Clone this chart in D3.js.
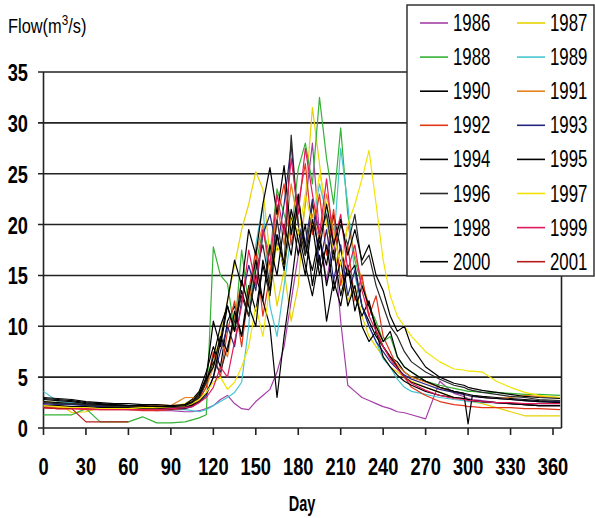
<!DOCTYPE html>
<html>
<head>
<meta charset="utf-8">
<script src="https://cdn.jsdelivr.net/npm/d3@7"></script>
<style>
  body{margin:0;background:#fff}
  text{font-family:"Liberation Sans",Arial,sans-serif}
</style>
</head>
<body>
<div id="chart"></div>
<script>
// day of year for every reading (shared by all years)
const days=[0,10,20,30,40,50,60,70,80,90,100,105,110,115,120,125,130,135,140,145,150,155,160,165,170,175,180,185,190,195,200,205,210,215,220,225,230,235,240,245,250,255,260,270,280,290,297,300,303,310,320,330,340,350,365]

const years=['1986','1987','1988','1989','1990','1991','1992','1993','1994','1995','1996','1997','1998','1999','2000','2001']
const colors=['#a43fa8','#e6d200','#33b233','#46c6cf','#000','#e8821e','#e2361a','#26267e','#000','#000','#2a2a2a','#f2e400','#000','#e01a5c','#000','#b81a1a']

const flow1986=[2.3,2.2,2.0,2.0,1.9,1.9,1.8,1.8,1.7,1.7,1.6,1.6,1.7,1.9,2.2,2.8,3.2,2.4,1.9,1.8,2.6,3.2,3.8,5.5,8.0,12.5,17.0,22.0,28.0,19.0,14.5,18.5,10.5,4.2,3.6,3.0,2.7,2.4,2.1,1.9,1.6,1.5,1.3,0.9,4.6,3.4,3.1,2.9,2.8,2.7,2.5,2.4,2.3,2.2,2.2]
const flow1987=[2.6,2.5,1.5,1.6,2.0,2.2,2.1,2.3,2.0,2.1,2.4,2.8,3.5,4.2,6.5,9.0,12.5,16.0,19.5,22.0,25.2,23.5,17.0,12.0,15.5,10.5,14.0,22.5,31.5,26.0,20.0,17.5,15.0,12.5,14.0,11.0,9.0,8.0,7.0,6.0,5.5,5.0,4.6,4.0,3.5,3.0,2.9,2.8,2.6,2.4,2.0,1.6,1.2,1.2,1.2]
const flow1988=[1.3,1.3,1.3,1.9,0.6,0.6,0.6,1.1,0.5,0.5,0.6,0.8,1.0,1.3,17.8,15.0,14.2,9.5,17.5,12.0,16.0,19.5,17.0,23.5,21.0,19.0,25.5,28.0,24.0,32.5,26.5,22.0,29.5,21.0,16.5,14.0,12.0,10.5,8.5,9.0,7.0,6.0,5.5,4.6,4.2,3.9,3.7,3.6,3.6,3.5,3.5,3.4,3.3,3.3,3.2]
const flow1989=[3.6,2.6,2.5,2.4,2.3,2.2,2.2,2.0,1.9,1.8,1.8,1.7,1.6,1.8,2.2,2.6,3.0,3.5,4.5,10.0,18.0,22.0,12.0,9.0,14.0,19.0,22.5,17.0,20.0,24.0,21.0,18.0,27.5,22.0,15.0,12.0,10.0,8.5,6.8,6.0,4.8,4.0,3.6,3.3,3.0,2.8,2.7,2.6,2.6,2.5,2.5,2.4,2.4,2.4,2.4]
const flow1990=[2.8,2.7,2.6,2.4,2.3,2.3,2.2,2.1,2.2,2.0,2.3,2.8,3.6,5.5,8.0,6.0,10.5,12.0,9.0,14.0,11.5,16.0,13.0,19.0,15.5,21.0,17.0,20.0,14.0,18.5,16.0,21.0,17.5,15.0,16.0,12.0,10.5,9.0,8.0,7.0,6.5,5.5,5.0,4.6,4.0,3.6,3.4,3.3,3.2,3.1,3.0,2.9,2.8,2.7,2.6]
const flow1991=[2.1,2.0,2.0,1.9,1.9,2.0,2.1,2.2,2.3,2.2,3.0,3.0,2.8,4.0,6.0,8.5,7.0,11.0,14.5,12.0,17.0,20.0,15.0,22.0,18.0,24.0,20.0,17.0,21.0,18.5,23.0,19.5,16.0,20.0,17.0,14.5,12.0,10.0,8.0,7.0,6.2,5.5,5.0,4.5,4.0,3.5,3.3,3.2,3.1,3.0,2.9,3.0,3.2,3.1,3.0]
const flow1992=[2.0,1.9,1.9,1.8,1.8,1.8,1.8,1.7,1.7,1.8,1.9,2.2,2.8,4.0,7.5,5.0,9.5,12.5,8.0,13.5,17.5,11.0,15.0,20.5,24.0,18.0,22.0,26.0,19.0,23.0,17.0,21.5,14.0,18.0,12.5,15.0,11.0,13.0,9.0,7.5,6.0,5.0,4.0,3.2,2.6,2.3,2.2,2.1,2.1,2.0,2.0,2.0,1.9,1.9,1.8]
const flow1993=[2.4,2.3,2.3,2.2,2.1,2.1,2.0,2.0,1.9,1.9,1.9,2.1,2.5,3.2,5.0,7.5,10.0,8.0,12.5,16.0,13.5,19.0,21.0,17.5,22.0,27.8,20.0,18.0,22.5,16.0,19.5,14.5,18.0,13.0,15.5,12.0,10.0,8.5,7.5,6.5,5.8,5.2,4.8,4.3,3.8,3.5,3.3,3.2,3.1,3.0,2.9,2.8,2.7,2.6,2.6]
const flow1994=[2.6,2.5,2.4,2.3,2.2,2.2,2.1,2.0,2.0,1.9,2.0,2.3,3.0,4.5,7.0,10.0,12.0,9.5,13.5,11.0,15.0,12.5,10.0,3.0,9.0,14.0,19.5,16.0,13.0,17.0,10.5,14.5,12.0,16.0,13.0,11.0,12.5,9.5,8.0,7.0,6.0,5.0,4.5,4.0,3.5,3.0,2.9,2.8,2.7,2.6,2.5,2.4,2.3,2.2,2.2]
const flow1995=[2.2,2.2,2.1,2.1,2.0,2.0,2.0,1.9,1.9,1.9,2.0,2.2,2.6,3.4,5.0,8.5,12.5,16.5,14.0,19.5,17.0,22.0,25.6,21.0,25.8,19.0,23.0,17.0,20.0,15.0,18.0,13.5,16.5,12.0,14.0,10.0,8.5,9.5,7.0,6.0,5.2,4.6,4.2,3.6,3.2,3.0,2.9,2.8,2.7,2.6,2.5,2.4,2.3,2.2,2.2]
const flow1996=[2.5,2.4,2.4,2.3,2.2,2.1,2.1,2.0,2.0,2.0,2.1,2.4,3.0,4.5,6.5,5.5,8.0,10.5,13.0,11.0,15.5,18.0,14.0,20.5,16.0,28.8,20.0,17.0,22.0,19.0,21.0,16.5,20.0,18.0,21.0,16.0,17.0,14.0,12.0,10.0,9.0,7.5,6.5,5.5,4.8,4.2,4.0,3.8,3.7,3.5,3.3,3.1,3.0,2.8,2.7]
const flow1997=[2.2,2.1,2.0,2.0,1.9,1.9,1.9,2.0,2.0,2.1,2.2,2.4,2.8,3.5,4.5,5.0,3.8,4.5,6.0,8.0,12.0,9.0,14.0,18.0,16.0,21.0,19.0,23.0,20.0,25.0,22.0,19.0,16.0,20.0,22.0,24.5,27.3,22.0,16.5,13.0,11.0,10.0,9.0,7.5,6.5,5.8,5.7,5.6,5.6,5.5,4.6,4.0,3.5,3.2,3.0]
const flow1998=[2.9,2.8,2.7,2.5,2.4,2.3,2.2,2.2,2.1,2.1,2.2,2.5,3.2,4.8,6.0,9.0,7.5,11.5,9.0,13.0,16.5,12.5,18.0,15.0,20.0,17.0,22.5,18.0,15.5,19.0,14.0,17.5,13.0,16.0,11.5,14.0,12.0,10.0,8.5,9.5,7.0,6.0,5.5,4.6,4.0,3.6,3.4,0.4,3.2,3.0,2.9,2.8,2.7,2.6,2.5]
const flow1999=[2.0,1.9,1.9,1.9,1.8,1.8,1.8,1.8,1.8,1.9,2.0,2.1,2.5,3.0,4.0,6.0,5.0,8.5,12.0,17.5,14.0,19.5,16.0,23.0,19.0,26.5,21.0,27.5,23.0,19.0,24.5,18.0,21.0,15.5,18.0,13.5,11.0,9.5,8.0,6.8,5.8,5.0,4.4,3.7,3.2,2.9,2.8,2.7,2.7,2.6,2.5,2.5,2.4,2.4,2.4]
const flow2000=[3.0,2.9,2.8,2.6,2.5,2.4,2.4,2.3,2.3,2.2,2.3,2.6,3.4,5.0,10.5,8.0,12.0,9.5,14.5,12.0,10.0,16.5,13.5,19.0,16.0,21.5,18.5,15.0,20.5,17.5,22.0,18.0,20.5,17.0,19.5,16.5,18.0,15.0,13.5,11.0,9.5,10.0,8.0,6.0,5.0,4.4,4.2,4.0,3.9,3.7,3.5,3.3,3.1,3.0,2.9]
const flow2001=[2.0,1.9,1.9,0.6,0.6,0.6,0.6]

const series=[flow1986,flow1987,flow1988,flow1989,flow1990,flow1991,flow1992,flow1993,flow1994,flow1995,flow1996,flow1997,flow1998,flow1999,flow2000,flow2001]
const xTicks=[0,30,60,90,120,150,180,210,240,270,300,330,360]
const yTicks=[0,5,10,15,20,25,30,35]

const width=595
const height=518

const x=d3.scaleLinear().domain([0,366]).range([43.5,561.5])
const y=d3.scaleLinear().domain([0,35]).range([428,72])

const svg=d3.select('#chart')
    .append('svg')
    .attr('width',width)
    .attr('height',height)

// gridlines + y labels
svg.append('g')
    .selectAll('line')
    .data(yTicks)
    .join('line')
    .attr('x1',38)
    .attr('x2',x(366))
    .attr('y1',d=>y(d))
    .attr('y2',d=>y(d))
    .attr('stroke','#222')
    .attr('stroke-width',1.6)

svg.append('g')
    .selectAll('text')
    .data(yTicks)
    .join('text')
    .attr('transform',d=>`translate(28,${y(d)+9}) scale(0.76,1)`)
    .attr('text-anchor','end')
    .attr('font-size',24)
    .attr('font-weight','bold')
    .text(d=>d)

// frame
svg.append('line')
    .attr('x1',x(0)).attr('x2',x(0))
    .attr('y1',y(35)).attr('y2',y(0))
    .attr('stroke','#222').attr('stroke-width',1.6)
svg.append('line')
    .attr('x1',x(366)).attr('x2',x(366))
    .attr('y1',y(35)).attr('y2',y(0))
    .attr('stroke','#222').attr('stroke-width',1.6)

// x ticks and labels
svg.append('g')
    .selectAll('line')
    .data(xTicks)
    .join('line')
    .attr('x1',d=>x(d)).attr('x2',d=>x(d))
    .attr('y1',y(0)).attr('y2',y(0)+7)
    .attr('stroke','#222').attr('stroke-width',1.6)

svg.append('g')
    .selectAll('text')
    .data(xTicks)
    .join('text')
    .attr('transform',d=>`translate(${x(d)},475) scale(0.76,1)`)
    .attr('text-anchor','middle')
    .attr('font-size',24)
    .attr('font-weight','bold')
    .text(d=>d)

// flow lines
const line=d3.line()
    .defined(d=>d[1]!=null)
    .x(d=>x(d[0]))
    .y(d=>y(d[1]))

svg.append('g')
    .selectAll('path')
    .data(series)
    .join('path')
    .attr('d',s=>line(s.map((v,i)=>[days[i],v])))
    .attr('fill','none')
    .attr('stroke',(s,i)=>colors[i])
    .attr('stroke-width',1.2)
    .attr('stroke-linejoin','round')

// titles
const ttl=svg.append('text')
    .attr('transform','translate(8,33) scale(0.78,1)')
    .attr('font-size',21)
ttl.append('tspan').text('Flow(m')
ttl.append('tspan').attr('dy',-8).attr('font-size',15).text('3')
ttl.append('tspan').attr('dy',8).text('/s)')

svg.append('text')
    .attr('transform','translate(302,511) scale(0.66,1)')
    .attr('text-anchor','middle')
    .attr('font-size',22)
    .attr('font-weight','bold')
    .text('Day')

// legend
const legend=svg.append('g')
legend.append('rect')
    .attr('x',407).attr('y',5)
    .attr('width',187).attr('height',271)
    .attr('fill','#fff')
    .attr('stroke','#333')
    .attr('stroke-width',1.5)

const item=legend.selectAll('g')
    .data(years)
    .join('g')
    .attr('transform',(d,i)=>`translate(${i%2?517:420},${23+Math.floor(i/2)*34.1})`)
item.append('line')
    .attr('x1',0).attr('x2',28)
    .attr('stroke',(d,i)=>colors[i])
    .attr('stroke-width',1.6)
item.append('text')
    .attr('transform','translate(33,8) scale(0.73,1)')
    .attr('font-size',23)
    .text(d=>d)
</script>
</body>
</html>
